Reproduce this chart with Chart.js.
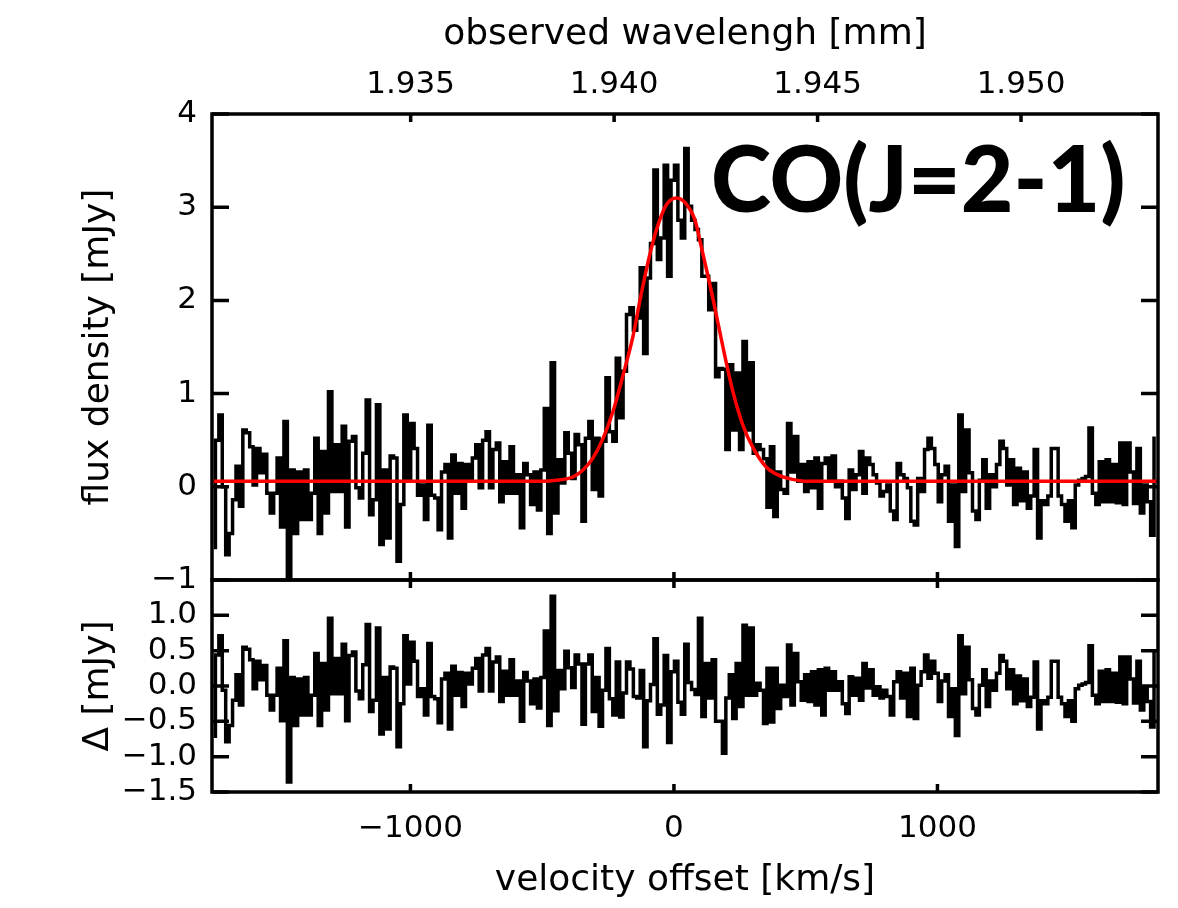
<!DOCTYPE html>
<html>
<head>
<meta charset="utf-8">
<script src="https://cdn.jsdelivr.net/npm/chart.js@4.4.1/dist/chart.umd.min.js"></script>
<style>
  html, body { margin: 0; background: #fff; }
  #wrap { position: relative; width: 1178px; height: 908px; }
  #wrap canvas { position: absolute; left: 0; top: 0; }
</style>
</head>
<body>
<div id="wrap">
  <canvas id="fluxChart" width="1178" height="908"></canvas>
  <canvas id="residChart" width="1178" height="908"></canvas>
</div>
<script>
const CHANNEL_START = -1753;
const CHANNEL_WIDTH = 13;
const VEL_MIN = -1753;
const VEL_MAX = 1837;
const LAMBDA_AT_ZERO = 1.94147; // observed wavelength of the line at 0 km/s, mm
const C_KMS = 299792.458;

const FLUX = [
  -0.65, 0.50, 0.77, 0.00, -0.73, -0.50, -0.14, 0.22, -0.21, 0.61,
  0.58, 0.43, 0.02, 0.41, 0.15, 0.35, -0.07, -0.28, -0.07, 0.31,
  -0.43, 0.70, -1.30, 0.18, -0.50, 0.16, -0.35, 0.18, -0.35, -0.07,
  0.52, -0.50, 0.38, -0.28, 1.02, -0.05, 0.45, -0.05, 0.65, -0.43,
  0.49, 0.54, -0.01, -0.12, 0.36, 0.93, -0.30, -0.14, 0.88, -0.62,
  0.18, -0.55, 0.33, 0.31, -0.80, -0.19, 0.77, 0.09, 0.68, 0.41,
  -0.09, 0.02, -0.35, 0.66, -0.09, -0.12, -0.46, 0.16, 0.24, -0.55,
  0.34, -0.07, 0.25, -0.23, 0.24, 0.09, 0.31, 0.45, -0.01, 0.50,
  0.59, -0.01, 0.40, 0.47, -0.16, 0.27, -0.07, 0.43, -0.07, 0.13,
  -0.44, 0.25, 0.13, -0.19, 0.16, -0.25, 0.18, 0.84, -0.50, 1.33,
  -0.28, 0.29, 0.04, 0.58, 0.36, 0.09, 0.56, 0.45, -0.37, 0.52,
  0.70, -0.03, 0.52, -0.10, 0.49, 1.17, 0.59, 0.49, 1.38, 0.74,
  1.24, 1.85, 1.92, 1.68, 1.81, 2.35, 1.43, 2.24, 2.61, 3.40,
  2.44, 2.67, 3.45, 2.26, 3.29, 3.45, 2.86, 2.67, 3.63, 3.01,
  2.86, 2.76, 2.65, 2.26, 2.26, 1.90, 2.18, 1.18, 1.27, 1.26,
  0.40, 1.31, 0.61, 1.22, 0.40, 1.56, 0.61, 1.33, 0.36, 0.45,
  0.40, 0.30, -0.22, 0.43, -0.32, 0.16, -0.03, -0.07, 0.68, 0.16,
  0.54, 0.06, 0.24, -0.05, 0.27, -0.01, 0.31, -0.23, 0.25, 0.31,
  0.09, 0.33, 0.00, 0.06, -0.12, -0.34, 0.18, -0.03, 0.13, 0.38,
  -0.07, 0.31, 0.24, 0.13, 0.04, -0.10, -0.05, 0.02, -0.26, -0.35,
  0.25, 0.13, 0.09, -0.01, -0.37, -0.41, 0.09, -0.05, 0.40, 0.52,
  0.41, 0.24, -0.16, 0.13, 0.22, -0.37, 0.02, -0.64, 0.77, -0.05,
  0.61, 0.15, -0.26, -0.35, 0.07, 0.29, -0.23, 0.13, 0.00, 0.24,
  0.49, 0.41, 0.02, 0.29, -0.19, 0.20, -0.15, 0.16, -0.23, -0.10,
  0.40, -0.55, -0.15, -0.19, -0.10, 0.41, 0.41, -0.10, -0.19, -0.37,
  -0.15, -0.44, 0.02, 0.07, 0.09, 0.11, 0.63, -0.07, -0.19, 0.27,
  -0.16, 0.29, -0.16, 0.24, -0.17, 0.47, -0.19, 0.47, 0.16, -0.18,
  0.41, -0.28, 0.02, -0.16, -0.52, 0.52,
];

const RESIDUAL = [
  -0.71, 0.44, 0.71, -0.06, -0.79, -0.56, -0.20, 0.16, -0.27, 0.55,
  0.52, 0.37, -0.04, 0.35, 0.09, 0.29, -0.13, -0.34, -0.13, 0.25,
  -0.49, 0.64, -1.36, 0.12, -0.56, 0.10, -0.41, 0.12, -0.41, -0.13,
  0.46, -0.56, 0.32, -0.34, 0.96, -0.11, 0.39, -0.11, 0.59, -0.49,
  0.43, 0.48, -0.07, -0.18, 0.30, 0.87, -0.36, -0.20, 0.82, -0.68,
  0.12, -0.61, 0.27, 0.25, -0.86, -0.25, 0.71, 0.03, 0.62, 0.35,
  -0.15, -0.04, -0.41, 0.60, -0.15, -0.18, -0.52, 0.10, 0.18, -0.61,
  0.28, -0.13, 0.19, -0.29, 0.18, 0.03, 0.25, 0.39, -0.07, 0.44,
  0.53, -0.07, 0.34, 0.41, -0.22, 0.21, -0.13, 0.37, -0.13, 0.07,
  -0.50, 0.19, 0.07, -0.25, 0.10, -0.31, 0.12, 0.78, -0.56, 1.27,
  -0.35, 0.22, -0.04, 0.49, 0.26, -0.02, 0.44, 0.31, -0.54, 0.31,
  0.44, -0.36, 0.12, -0.57, -0.06, 0.53, -0.18, -0.41, 0.34, -0.44,
  -0.10, 0.34, 0.24, -0.15, -0.17, 0.22, -0.86, -0.21, 0.02, 0.67,
  -0.40, -0.27, 0.43, -0.80, 0.20, 0.35, -0.23, -0.40, 0.59, 0.05,
  -0.05, -0.12, 0.96, -0.43, 0.32, -0.17, 0.37, -0.50, -0.50, -0.95,
  -0.17, 0.16, -0.46, 0.32, -0.29, 0.86, -0.13, 0.82, -0.13, 0.04,
  -0.06, -0.53, 0.25, -0.51, 0.25, -0.32, 0.01, -0.15, 0.58, -0.27,
  0.46, 0.06, -0.20, 0.16, -0.22, 0.20, -0.27, 0.23, -0.41, 0.25,
  -0.06, 0.20, -0.06, 0.06, -0.25, -0.39, 0.13, -0.13, 0.11, -0.20,
  0.32, -0.03, 0.23, -0.13, -0.01, -0.17, -0.06, -0.15, -0.41, 0.06,
  0.20, -0.17, 0.18, -0.43, 0.25, -0.46, 0.01, 0.20, 0.44, 0.11,
  0.35, 0.18, -0.22, 0.07, 0.16, -0.43, -0.04, -0.70, 0.71, -0.11,
  0.55, 0.09, -0.32, -0.41, 0.01, 0.23, -0.29, 0.07, -0.06, 0.18,
  0.43, 0.35, -0.04, 0.23, -0.25, 0.14, -0.21, 0.10, -0.29, -0.16,
  0.34, -0.61, -0.21, -0.25, -0.16, 0.35, 0.35, -0.16, -0.25, -0.43,
  -0.21, -0.50, -0.04, 0.01, 0.03, 0.05, 0.57, -0.13, -0.25, 0.21,
  -0.22, 0.23, -0.22, 0.18, -0.23, 0.41, -0.25, 0.41, 0.10, -0.24,
  0.35, -0.34, -0.04, -0.22, -0.58, 0.46,
];

// red fit
const MODEL_VEL = [-1753, -500, -445, -400, -380, -345, -307, -269, -231, -193, -155, -129, -95, -66, -28,
  11, 45, 80, 105, 148, 186, 224, 262, 300, 351, 401, 450, 500, 1837];
const MODEL_FLUX = [0.06, 0.06, 0.07, 0.09, 0.11, 0.18, 0.31, 0.52, 0.81, 1.20, 1.62, 2.00, 2.45, 2.76, 3.03,
  3.10, 3.04, 2.86, 2.56, 2.02, 1.50, 1.02, 0.66, 0.42, 0.21, 0.12, 0.08, 0.06, 0.06];

const VEL_TICKS = [-1000, 0, 1000];
const WAVE_TICKS = [1.935, 1.940, 1.945, 1.950];
const FLUX_TICKS = [-1, 0, 1, 2, 3, 4];
const RESID_TICKS = [-1.5, -1.0, -0.5, 0.0, 0.5, 1.0];
const LINE_LABEL = "CO(J=2-1)";

const FONT_FAMILY = "'DejaVu Sans', sans-serif";
const tickFont = { family: FONT_FAMILY, size: 31 };
const titleFont = { family: FONT_FAMILY, size: 36 };
const LINE_WIDTH = 3.5;

function channelVelocity(index) {
  return CHANNEL_START + CHANNEL_WIDTH * (index + 0.5);
}

function toWavelength(velocity) {
  return LAMBDA_AT_ZERO * (1 + velocity / C_KMS);
}

function signed(value, digits) {
  return (value < 0 ? "\u2212" : "") + Math.abs(value).toFixed(digits);
}

function fixedTicks(values) {
  return (scale) => { scale.ticks = values.map((value) => ({ value })); };
}

function points(xs, ys) {
  return ys.map((y, i) => ({ x: xs[i], y }));
}

const frameTicks = {
  id: "frameTicks",
  afterDatasetsDraw(chart, args, opts) {
    const { ctx, chartArea: a, scales } = chart;
    ctx.save();
    ctx.strokeStyle = "#000";
    ctx.lineWidth = LINE_WIDTH;
    ctx.strokeRect(a.left, a.top, a.right - a.left, a.bottom - a.top);
    ctx.beginPath();
    opts.yTicks.forEach((v) => {
      const y = scales.y.getPixelForValue(v);
      ctx.moveTo(a.left, y);
      ctx.lineTo(a.left + 17, y);
      ctx.moveTo(a.right, y);
      ctx.lineTo(a.right - 17, y);
    });
    VEL_TICKS.forEach((v) => {
      const x = scales.x.getPixelForValue(v);
      ctx.moveTo(x, a.bottom);
      ctx.lineTo(x, a.bottom - 8);
    });
    opts.topTicks.forEach((v) => {
      const x = scales[opts.topScale].getPixelForValue(v);
      ctx.moveTo(x, a.top);
      ctx.lineTo(x, a.top + 8);
    });
    ctx.stroke();
    if (opts.label) {
      ctx.fillStyle = "#000";
      ctx.font = "900 91px Lato, 'DejaVu Sans', sans-serif";
      ctx.textBaseline = "alphabetic";
      ctx.fillText(opts.label, 711, 212);
    }
    ctx.restore();
  },
};

function axisBase() {
  return {
    type: "linear",
    grid: { display: false, drawTicks: false },
    border: { display: false },
  };
}

function leftAxis(min, max, ticks, digits, title) {
  return {
    ...axisBase(),
    position: "left",
    min,
    max,
    afterBuildTicks: fixedTicks(ticks),
    afterFit: (scale) => { scale.width = 212; },
    ticks: { font: tickFont, color: "#000", padding: 15, autoSkip: false, callback: (v) => signed(v, digits) },
    title: { display: true, text: title, font: titleFont, color: "#000", padding: { top: 77, bottom: 0 } },
  };
}

function spectrumLine(values, color) {
  return {
    data: points(values.map((_, i) => channelVelocity(i)), values),
    xAxisID: "x",
    yAxisID: "y",
    borderColor: color,
    borderWidth: LINE_WIDTH,
    pointRadius: 0,
    stepped: "middle",
  };
}

const commonOptions = {
  responsive: false,
  animation: false,
  events: [],
  plugins: { legend: { display: false }, tooltip: { enabled: false } },
};

new Chart(document.getElementById("fluxChart"), {
  type: "line",
  data: {
    datasets: [
      {
        data: points(MODEL_VEL, MODEL_FLUX),
        xAxisID: "x",
        yAxisID: "y",
        borderColor: "#ff0000",
        borderWidth: LINE_WIDTH,
        pointRadius: 0,
        cubicInterpolationMode: "monotone",
      },
      spectrumLine(FLUX, "#000"),
    ],
  },
  options: {
    ...commonOptions,
    layout: { padding: { left: 0, top: 0, right: 20, bottom: 328 } },
    scales: {
      x: { type: "linear", display: false, min: VEL_MIN, max: VEL_MAX },
      xTop: {
        ...axisBase(),
        position: "top",
        min: toWavelength(VEL_MIN),
        max: toWavelength(VEL_MAX),
        afterBuildTicks: fixedTicks(WAVE_TICKS),
        afterFit: (scale) => { scale.height = 114; },
        ticks: { font: tickFont, color: "#000", padding: 10, maxRotation: 0, autoSkip: false, callback: (v) => v.toFixed(3) },
        title: { display: true, text: "observed wavelengh [mm]", font: titleFont, color: "#000", padding: { top: 13, bottom: 0 } },
      },
      y: leftAxis(-1, 4, FLUX_TICKS, 0, "flux density [mJy]"),
    },
    plugins: {
      ...commonOptions.plugins,
      frameTicks: { yTicks: FLUX_TICKS, topTicks: WAVE_TICKS, topScale: "xTop", label: LINE_LABEL },
    },
  },
  plugins: [frameTicks],
});

new Chart(document.getElementById("residChart"), {
  type: "line",
  data: { datasets: [spectrumLine(RESIDUAL, "#000")] },
  options: {
    ...commonOptions,
    layout: { padding: { left: 0, top: 580, right: 20, bottom: 0 } },
    scales: {
      x: {
        ...axisBase(),
        position: "bottom",
        min: VEL_MIN,
        max: VEL_MAX,
        afterBuildTicks: fixedTicks(VEL_TICKS),
        afterFit: (scale) => { scale.height = 116; },
        ticks: { font: tickFont, color: "#000", padding: 18, maxRotation: 0, autoSkip: false, callback: (v) => signed(v, 0) },
        title: { display: true, text: "velocity offset [km/s]", font: titleFont, color: "#000", padding: { top: 0, bottom: 6 } },
      },
      y: leftAxis(-1.5, 1.5, RESID_TICKS, 1, "\u0394 [mJy]"),
    },
    plugins: {
      ...commonOptions.plugins,
      frameTicks: { yTicks: RESID_TICKS, topTicks: VEL_TICKS, topScale: "x", label: null },
    },
  },
  plugins: [frameTicks],
});
</script>
</body>
</html>
